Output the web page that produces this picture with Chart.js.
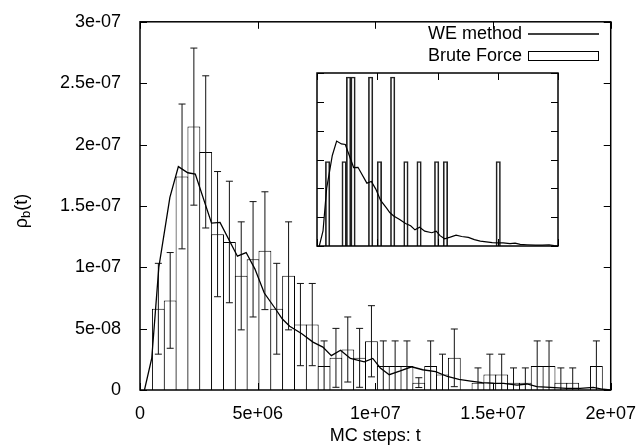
<!DOCTYPE html>
<html>
<head>
<meta charset="utf-8">
<script src="https://cdn.jsdelivr.net/npm/chart.js@4/dist/chart.umd.min.js"></script>
<style>
  html, body { margin: 0; padding: 0; background: #fff; }
  #wrap { position: relative; width: 641px; height: 446px; }
  #main { position: absolute; left: 0; top: 0; }
  #inset { position: absolute; left: 316px; top: 72px; }
</style>
</head>
<body>
<div id="wrap">
  <canvas id="main" width="641" height="446"></canvas>
  <canvas id="inset" width="243" height="175"></canvas>
</div>
<script>
// ── Brute force histogram (bin centre in MC steps, rho_b, error) ──
const bfSteps = [0.780e6, 1.283e6, 1.786e6, 2.289e6, 2.792e6, 3.295e6, 3.798e6, 4.301e6, 4.804e6, 5.307e6,
                 5.810e6, 6.313e6, 6.816e6, 7.319e6, 7.822e6, 8.325e6, 8.828e6, 9.331e6, 9.834e6, 10.337e6,
                 10.840e6, 11.343e6, 11.846e6, 12.349e6, 12.852e6, 13.355e6, 13.858e6, 14.361e6, 14.864e6, 15.367e6,
                 15.870e6, 16.373e6, 16.876e6, 17.379e6, 17.882e6, 18.385e6, 18.888e6, 19.391e6];
const bfRho = [6.62e-8, 7.3e-8, 17.4e-8, 21.46e-8, 19.4e-8, 12.7e-8, 12.06e-8, 9.3e-8, 10.65e-8, 11.35e-8,
               6.62e-8, 9.3e-8, 5.33e-8, 5.33e-8, 1.95e-8, 2.62e-8, 3.3e-8, 2.62e-8, 3.97e-8, 1.95e-8,
               1.95e-8, 1.95e-8, 0.6e-8, 1.95e-8, 1.27e-8, 2.62e-8, 0, 0.6e-8, 1.27e-8, 1.27e-8,
               0.6e-8, 0.6e-8, 1.95e-8, 1.95e-8, 0.6e-8, 0.6e-8, 0, 1.95e-8];
const bfErr = [3.7e-8, 3.9e-8, 5.9e-8, 6.4e-8, 6.2e-8, 5.1e-8, 4.95e-8, 4.4e-8, 4.7e-8, 4.8e-8,
               3.7e-8, 4.4e-8, 3.35e-8, 3.35e-8, 2.05e-8, 2.4e-8, 2.65e-8, 2.4e-8, 2.9e-8, 2.05e-8,
               2.05e-8, 2.05e-8, 0.4e-8, 2.05e-8, 1.65e-8, 2.35e-8, 0, 1.2e-8, 1.65e-8, 1.65e-8,
               1.2e-8, 1.2e-8, 2.05e-8, 2.05e-8, 1.2e-8, 1.2e-8, 0, 2.05e-8];

// ── WE method curve ──
const weSteps = [0.19e6, 0.50e6, 0.80e6, 1.27e6, 1.63e6, 2.03e6, 2.35e6, 3.04e6, 3.40e6, 4.14e6,
                 4.51e6, 4.88e6, 5.28e6, 5.76e6, 6.04e6, 6.36e6, 6.86e6, 7.35e6, 7.77e6, 8.13e6,
                 8.52e6, 8.94e6, 9.53e6, 9.89e6, 10.21e6, 10.59e6, 11.06e6, 11.54e6, 12.01e6, 12.56e6,
                 13.06e6, 13.55e6, 14.05e6, 14.54e6, 15.03e6, 15.45e6, 16.02e6, 16.44e6, 16.86e6, 17.43e6,
                 18.13e6, 18.70e6, 19.26e6, 19.68e6, 19.98e6];
const weRho = [0, 2.6e-8, 10.0e-8, 15.7e-8, 18.2e-8, 17.7e-8, 17.6e-8, 13.6e-8, 13.65e-8, 10.9e-8,
               11.2e-8, 9.87e-8, 7.9e-8, 6.6e-8, 5.8e-8, 5.2e-8, 4.6e-8, 3.9e-8, 3.5e-8, 2.8e-8,
               3.24e-8, 2.57e-8, 2.3e-8, 2.57e-8, 1.8e-8, 1.25e-8, 1.55e-8, 1.89e-8, 1.65e-8, 1.49e-8,
               1.1e-8, 0.86e-8, 0.73e-8, 0.6e-8, 0.55e-8, 0.54e-8, 0.4e-8, 0.49e-8, 0.27e-8, 0.22e-8,
               0.14e-8, 0.14e-8, 0.22e-8, 0.06e-8, 0];

// ── Inset: short brute force run ──
const insetSteps = [0.88e6, 2.25e6, 2.62e6, 2.99e6, 4.45e6, 5.18e6, 6.28e6, 7.38e6, 8.47e6, 9.93e6, 10.66e6, 15.04e6];
const insetRho = [14.65e-8, 14.65e-8, 29.3e-8, 29.3e-8, 29.3e-8, 14.65e-8, 29.3e-8, 14.65e-8, 14.65e-8, 14.65e-8, 14.65e-8, 14.65e-8];

const xTickLabels = ['0', '5e+06', '1e+07', '1.5e+07', '2e+07'];
const yTickLabels = ['0', '5e-08', '1e-07', '1.5e-07', '2e-07', '2.5e-07', '3e-07'];

const FONT = '"Liberation Sans", Arial, Helvetica, sans-serif';
Chart.defaults.font.family = FONT;
Chart.defaults.font.size = 18;
Chart.defaults.color = '#000';

const pts = (xs, ys) => xs.map((x, i) => ({ x, y: ys[i] }));

// gnuplot-like border with inward ticks on all four sides
const frame = {
  id: 'frame',
  afterDraw(chart) {
    const { ctx, chartArea: a, scales: { x, y } } = chart;
    const len = 7;
    ctx.save();
    ctx.strokeStyle = '#000';
    ctx.lineWidth = 1;
    ctx.beginPath();
    x.ticks.forEach(t => {
      const px = Math.round(x.getPixelForValue(t.value)) + 0.5;
      ctx.moveTo(px, a.bottom); ctx.lineTo(px, a.bottom - len);
      ctx.moveTo(px, a.top); ctx.lineTo(px, a.top + len);
    });
    y.ticks.forEach(t => {
      const py = Math.round(y.getPixelForValue(t.value)) + 0.5;
      ctx.moveTo(a.left, py); ctx.lineTo(a.left + len, py);
      ctx.moveTo(a.right, py); ctx.lineTo(a.right - len, py);
    });
    ctx.stroke();
    ctx.lineWidth = 1.5;
    ctx.strokeRect(a.left, a.top, a.right - a.left, a.bottom - a.top);
    ctx.restore();
  }
};

// error bars, drawn right after the histogram
const errorBars = {
  id: 'errorBars',
  afterDatasetDraw(chart, args) {
    if (args.meta.type !== 'bar') return;
    const { ctx, chartArea: a, scales: { x, y } } = chart;
    ctx.save();
    ctx.beginPath();
    ctx.rect(a.left, a.top, a.right - a.left, a.bottom - a.top);
    ctx.clip();
    ctx.strokeStyle = '#111';
    ctx.lineWidth = 1;
    ctx.beginPath();
    bfSteps.forEach((s, i) => {
      if (!bfErr[i]) return;
      const px = x.getPixelForValue(s);
      const hi = y.getPixelForValue(bfRho[i] + bfErr[i]);
      const lo = y.getPixelForValue(bfRho[i] - bfErr[i]);
      ctx.moveTo(px, hi); ctx.lineTo(px, lo);
      ctx.moveTo(px - 3.5, hi); ctx.lineTo(px + 3.5, hi);
      ctx.moveTo(px - 3.5, lo); ctx.lineTo(px + 3.5, lo);
    });
    ctx.stroke();
    ctx.restore();
  }
};

// key in the top right corner + axis titles
const keyAndTitles = {
  id: 'keyAndTitles',
  afterDraw(chart) {
    const { ctx, chartArea: a } = chart;
    const ds = chart.data.datasets;
    ctx.save();
    ctx.fillStyle = '#000';
    ctx.strokeStyle = '#000';
    ctx.font = '18px ' + FONT;
    ctx.textAlign = 'right';
    ctx.textBaseline = 'middle';
    ctx.fillText(ds[0].label, 522, 34);
    ctx.fillText(ds[1].label, 522, 56);
    ctx.lineWidth = 1.3;
    ctx.beginPath(); ctx.moveTo(528, 34); ctx.lineTo(599, 34); ctx.stroke();
    ctx.lineWidth = 1;
    ctx.strokeRect(528.5, 51.5, 70, 9);

    // x title
    ctx.textAlign = 'center';
    ctx.fillText('MC steps: t', (a.left + a.right) / 2, 436);

    // y title: rho with subscript b
    ctx.translate(21, 211);
    ctx.rotate(-Math.PI / 2);
    ctx.textAlign = 'left';
    ctx.textBaseline = 'alphabetic';
    const big = '18px ' + FONT, small = '13px ' + FONT;
    ctx.font = big; const w1 = ctx.measureText('ρ').width;
    ctx.font = small; const w2 = ctx.measureText('b').width;
    ctx.font = big; const w3 = ctx.measureText('(t)').width;
    let cx = -(w1 + w2 + w3) / 2;
    ctx.fillText('ρ', cx, 6); cx += w1;
    ctx.font = small; ctx.fillText('b', cx, 9); cx += w2;
    ctx.font = big; ctx.fillText('(t)', cx, 6);
    ctx.restore();
  }
};

new Chart(document.getElementById('main'), {
  type: 'bar',
  data: {
    datasets: [
      {
        type: 'line', label: 'WE method', data: pts(weSteps, weRho),
        borderColor: '#000', borderWidth: 1.3, pointRadius: 0, tension: 0, fill: false, order: 0
      },
      {
        type: 'bar', label: 'Brute Force', data: pts(bfSteps, bfRho),
        backgroundColor: '#fff', borderColor: '#000', borderWidth: 1,
        barPercentage: 1.085, categoryPercentage: 1, order: 1
      }
    ]
  },
  options: {
    responsive: false,
    animation: false,
    events: [],
    layout: { padding: { left: 0, right: 28.5, top: 20, bottom: 0 } },
    plugins: { legend: { display: false }, tooltip: { enabled: false } },
    scales: {
      x: {
        type: 'linear', min: 0, max: 2e7, offset: false,
        grid: { display: false }, border: { display: false },
        ticks: { stepSize: 5e6, padding: 5, maxRotation: 0, autoSkip: false, callback: (v, i) => xTickLabels[i] },
        afterFit: s => { s.height = 56; }
      },
      y: {
        type: 'linear', min: 0, max: 3e-7,
        grid: { display: false }, border: { display: false },
        ticks: { stepSize: 5e-8, padding: 11, autoSkip: false, callback: (v, i) => yTickLabels[i] },
        afterFit: s => { s.width = 140; }
      }
    }
  },
  plugins: [errorBars, frame, keyAndTitles]
});

// inset
new Chart(document.getElementById('inset'), {
  type: 'bar',
  data: {
    datasets: [
      {
        type: 'line', label: 'WE method', data: pts(weSteps, weRho),
        borderColor: '#000', borderWidth: 1.2, pointRadius: 0, tension: 0, fill: false, order: 0
      },
      {
        type: 'bar', label: 'Brute Force', data: pts(insetSteps, insetRho),
        backgroundColor: 'rgba(255,255,255,0)', borderColor: '#222', borderWidth: 1,
        barPercentage: 1, categoryPercentage: 1, order: 1
      }
    ]
  },
  options: {
    responsive: false,
    animation: false,
    events: [],
    layout: { padding: 1 },
    plugins: { legend: { display: false }, tooltip: { enabled: false } },
    scales: {
      x: {
        type: 'linear', min: 0, max: 2e7, offset: false,
        grid: { display: false }, border: { display: false },
        ticks: { display: false, stepSize: 5e6 },
        afterFit: s => { s.height = 0; }
      },
      y: {
        type: 'linear', min: 0, max: 3e-7,
        grid: { display: false }, border: { display: false },
        ticks: { display: false, stepSize: 5e-8 },
        afterFit: s => { s.width = 0; }
      }
    }
  },
  plugins: [frame]
});
</script>
</body>
</html>
